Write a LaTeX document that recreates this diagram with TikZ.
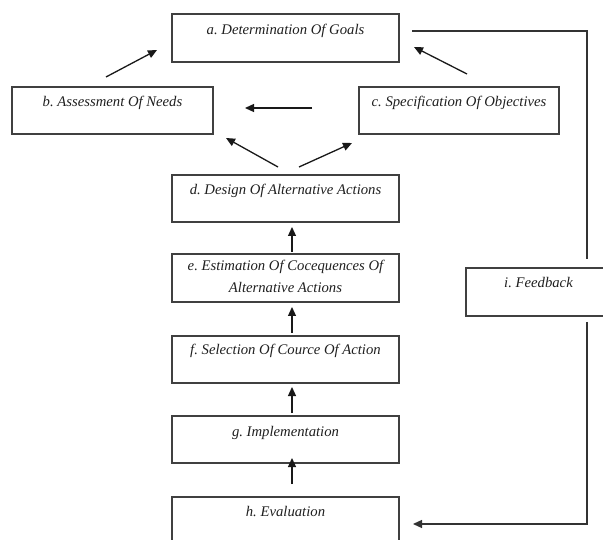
\documentclass[tikz,border=0pt]{standalone}
\usepackage{fontspec}
\setmainfont{Liberation Serif}
\usetikzlibrary{arrows.meta}
\frenchspacing
\begin{document}
\begin{tikzpicture}[x=1pt,y=-1pt,
  box/.style={draw=black!75, line width=1.4pt, inner sep=0pt, rectangle},
  midbox/.style={box, minimum width=227pt, minimum height=47pt},
  lbl/.style={anchor=base, inner sep=0pt, font=\fontsize{14.7}{17}\selectfont\itshape, text=black!88},
  tip/.style={-{Triangle[length=9pt,width=8pt]}},
  arr/.style={draw=black!90, line width=1.3pt, tip},
  fb/.style={draw=black!80, line width=1.3pt}]
\useasboundingbox (0,0) rectangle (603,540);
% boxes
\node[box, minimum width=227pt, minimum height=48pt] (a) at (285.5,38) {};
\node[box, minimum width=201pt, minimum height=47pt] (b) at (112.5,110.5) {};
\node[box, minimum width=200pt, minimum height=47pt] (c) at (459,110.5) {};
\node[midbox] (d) at (285.5,198.5) {};
\node[midbox, minimum height=48pt] (e) at (285.5,278) {};
\node[midbox] (f) at (285.5,359.5) {};
\node[midbox] (g) at (285.5,439.5) {};
\node[midbox] (h) at (285.5,520.5) {};
\node[box, minimum width=145pt, minimum height=48pt] (i) at (538.5,292) {};
% labels
\node[lbl] (ta) at (285.5,35) {a. Determination Of Goals};
\node[lbl] (tb) at (112.5,107) {b. Assessment Of Needs};
\node[lbl] (tc) at (459,107) {c. Specification Of Objectives};
\node[lbl] (td) at (285.5,195) {d. Design Of Alternative Actions};
\node[lbl] (te1) at (285.5,271) {e. Estimation Of Cocequences Of};
\node[lbl] (te2) at (285.5,293) {Alternative Actions};
\node[lbl] (tf) at (285.5,355) {f. Selection Of Cource Of Action};
\node[lbl] (tg) at (285.5,436) {g. Implementation};
\node[lbl] (th) at (285.5,516) {h. Evaluation};
\node[lbl] (ti) at (538.5,288) {i. Feedback};
% arrow end points
\coordinate (ba0) at (106,77);   \coordinate (ba1) at (157,50);
\coordinate (ca0) at (467,74);   \coordinate (ca1) at (414,47);
\coordinate (cb0) at (312,108);  \coordinate (cb1) at (245,108);
\coordinate (db0) at (278,167);  \coordinate (db1) at (226,138);
\coordinate (dc0) at (299,167);  \coordinate (dc1) at (352,143);
\coordinate (ed0) at (292,252);  \coordinate (ed1) at (292,227);
\coordinate (fe0) at (292,333);  \coordinate (fe1) at (292,307);
\coordinate (gf0) at (292,413);  \coordinate (gf1) at (292,387);
\coordinate (hg0) at (292,484);  \coordinate (hg1) at (292,458);
\coordinate (fa0) at (412,31);   \coordinate (fa1) at (587,31);  \coordinate (fa2) at (587,259);
\coordinate (fh0) at (587,322);  \coordinate (fh1) at (587,524); \coordinate (fh2) at (413,524);
% arrows
\draw[arr] (ba0) -- (ba1);
\draw[arr] (ca0) -- (ca1);
\draw[arr] (cb0) -- (cb1);
\draw[arr] (db0) -- (db1);
\draw[arr] (dc0) -- (dc1);
\draw[arr] (ed0) -- (ed1);
\draw[arr] (fe0) -- (fe1);
\draw[arr] (gf0) -- (gf1);
\draw[arr] (hg0) -- (hg1);
% feedback loop
\draw[fb] (fa0) -- (fa1) -- (fa2);
\draw[fb, tip] (fh0) -- (fh1) -- (fh2);
\end{tikzpicture}
\end{document}
